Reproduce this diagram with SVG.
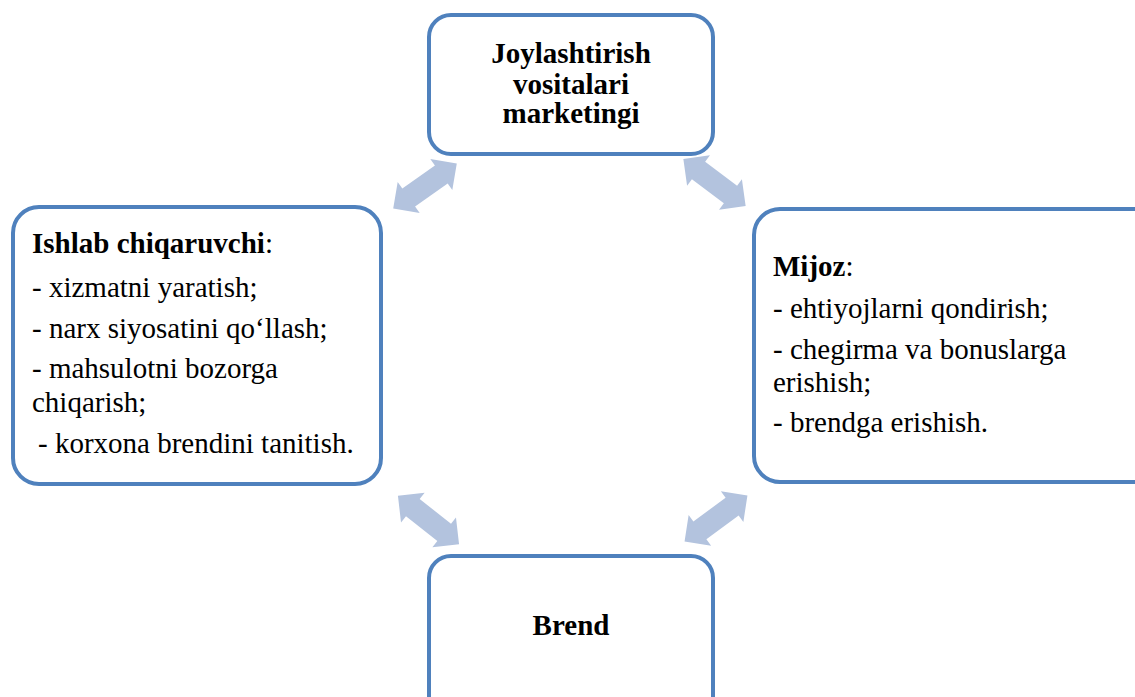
<svg xmlns="http://www.w3.org/2000/svg" width="1135" height="697" viewBox="0 0 1135 697">
<style>
.box{fill:#ffffff;stroke:#4f81bd;stroke-width:4}
.arr{fill:#b3c3de}
.t{font-size:29px;fill:#000}
.b{font-weight:bold}
.c{text-anchor:middle}
</style>
<defs>
<path id="dbl" d="M-39,0 L-20,-19 L-20,-11 L20,-11 L20,-19 L39,0 L20,19 L20,11 L-20,11 L-20,19 Z"/>
</defs>
<rect width="1135" height="697" fill="#ffffff"/>
<g id="connectors">
<use href="#dbl" class="arr" transform="translate(425,186) rotate(-35.4)"/>
<use href="#dbl" class="arr" transform="translate(714.5,182.5) rotate(37)"/>
<use href="#dbl" class="arr" transform="translate(428.5,520) rotate(38.4)"/>
<use href="#dbl" class="arr" transform="translate(716,518.5) rotate(-36.3)"/>
</g>
<g id="node-top" class="t" font-family="Liberation Serif, Times New Roman, serif">
<rect class="box" x="429" y="15" width="284" height="139" rx="22"/>
<text class="b c" x="571" y="63">Joylashtirish</text>
<text class="b c" x="571" y="94">vositalari</text>
<text class="b c" x="571" y="123">marketingi</text>
</g>
<g id="node-left" class="t" font-family="Liberation Serif, Times New Roman, serif">
<rect class="box" x="13" y="207" width="368" height="277" rx="26"/>
<text x="32" y="253"><tspan class="b">Ishlab chiqaruvchi</tspan>:</text>
<text x="32" y="297">- xizmatni yaratish;</text>
<text x="32" y="338">- narx siyosatini qo‘llash;</text>
<text x="32" y="378">- mahsulotni bozorga</text>
<text x="32" y="412">chiqarish;</text>
<text x="38" y="453">- korxona brendini tanitish.</text>
</g>
<g id="node-right" class="t" font-family="Liberation Serif, Times New Roman, serif">
<rect class="box" x="754" y="209" width="420" height="273" rx="26"/>
<text x="773" y="276"><tspan class="b">Mijoz</tspan>:</text>
<text x="773" y="318">- ehtiyojlarni qondirish;</text>
<text x="773" y="359">- chegirma va bonuslarga</text>
<text x="773" y="392">erishish;</text>
<text x="773" y="432">- brendga erishish.</text>
</g>
<g id="node-bottom" class="t" font-family="Liberation Serif, Times New Roman, serif">
<rect class="box" x="429" y="556" width="284" height="170" rx="22"/>
<text class="b c" x="571" y="635">Brend</text>
</g>
</svg>
